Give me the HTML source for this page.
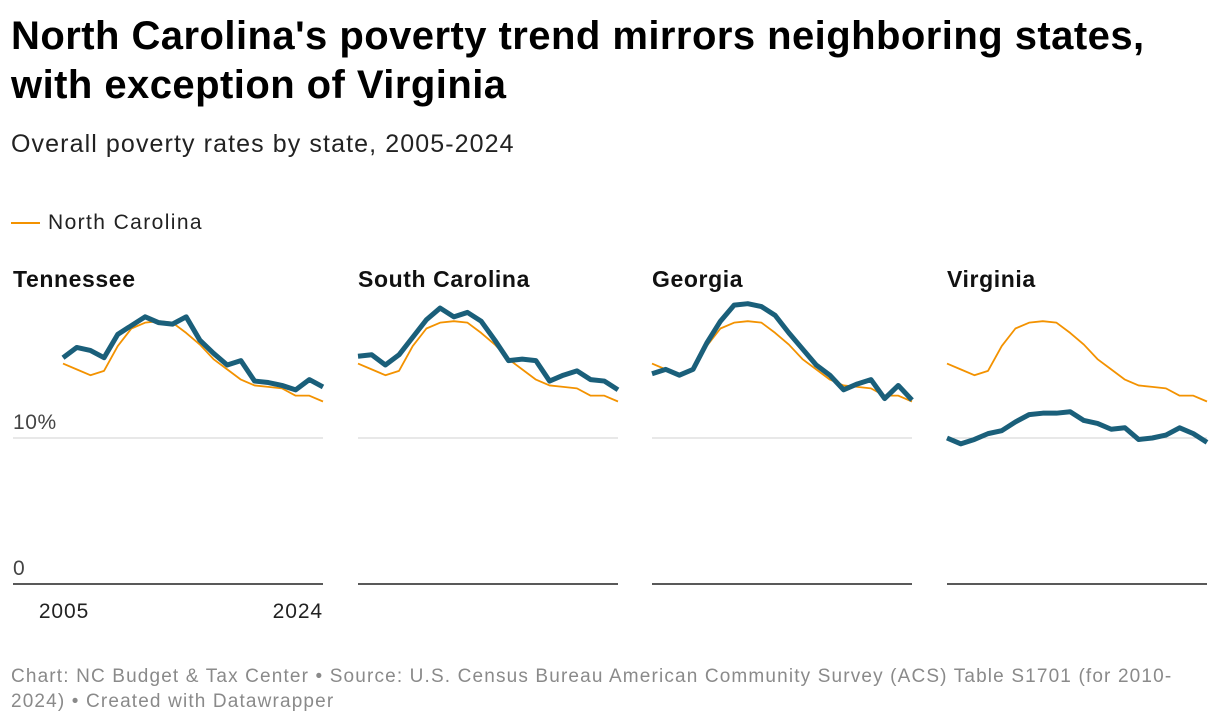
<!DOCTYPE html>
<html><head><meta charset="utf-8"><style>
body{margin:0;background:#fff;width:1220px;height:726px;overflow:hidden;font-family:"Liberation Sans",sans-serif;}
.t{position:absolute;left:11px;margin:0;color:#000;white-space:nowrap;}
</style></head><body>
<div class="t" style="top:12px;font-size:40px;font-weight:bold;line-height:49px;letter-spacing:0.45px">North Carolina's poverty trend mirrors neighboring states,<br>with exception of Virginia</div>
<div class="t" style="top:130px;font-size:25px;letter-spacing:1.1px;color:#222">Overall poverty rates by state, 2005-2024</div>
<div class="t" style="top:211px;font-size:21px;letter-spacing:1.4px;color:#222"><span style="display:inline-block;width:29px;height:2px;background:#f39200;vertical-align:middle;margin-right:8px"></span>North Carolina</div>
<svg id="c" width="1220" height="726" style="position:absolute;left:0;top:0"></svg>
<div class="t" style="top:664px;font-size:19px;letter-spacing:1.15px;line-height:25px;color:#8a8a8a">Chart: NC Budget &amp; Tax Center • Source: U.S. Census Bureau American Community Survey (ACS) Table S1701 (for 2010-<br>2024) • Created with Datawrapper</div>
<script>
const years=[2005,2006,2007,2008,2009,2010,2011,2012,2013,2014,2015,2016,2017,2018,2019,2020,2021,2022,2023,2024];
const nc=[15.1,14.7,14.3,14.6,16.3,17.5,17.9,18.0,17.9,17.2,16.4,15.4,14.7,14.0,13.6,13.5,13.4,12.9,12.9,12.5];
const tn=[15.5,16.2,16.0,15.5,17.1,17.7,18.3,17.9,17.8,18.3,16.7,15.8,15.0,15.3,13.9,13.8,13.6,13.3,14.0,13.5];
const sc=[15.6,15.7,15.0,15.7,16.9,18.1,18.9,18.3,18.6,18.0,16.7,15.3,15.4,15.3,13.9,14.3,14.6,14.0,13.9,13.3];
const ga=[14.4,14.7,14.3,14.7,16.5,18.0,19.1,19.2,19.0,18.4,17.2,16.1,15.0,14.3,13.3,13.7,14.0,12.7,13.6,12.6];
const va=[10.0,9.6,9.9,10.3,10.5,11.1,11.6,11.7,11.7,11.8,11.2,11.0,10.6,10.7,9.9,10.0,10.2,10.7,10.3,9.7];
const panels=[["Tennessee",tn,63,13],["South Carolina",sc,358,358],["Georgia",ga,652,652],["Virginia",va,947,947]];
const svg=document.getElementById('c');const NS='http://www.w3.org/2000/svg';
const W=260;
function y(v){return 584-v*14.6;}
function mk(t,a,p){const e=document.createElementNS(NS,t);for(const k in a)e.setAttribute(k,a[k]);(p||svg).appendChild(e);return e;}
panels.forEach(([name,data,x0,gx],i)=>{
 const g=mk('g',{});
 
 
 const x=j=>x0+(years[j]-years[0])/(years[years.length-1]-years[0])*W;
 const t=mk('text',{x:gx,y:287,'font-size':23,'font-weight':'bold','letter-spacing':0.6,fill:'#111'},g);t.textContent=name;
 
 
 const gl=mk('line',{x1:gx,x2:x0+W,y1:y(10),y2:y(10),stroke:'#d0d0d0','stroke-width':1},g);
 
 
 const bl=mk('line',{x1:gx,x2:x0+W,y1:y(0),y2:y(0),stroke:'#222','stroke-width':1.5},g);
 
 
 const l1=mk('polyline',{points:nc.map((v,j)=>x(j)+','+y(v)).join(' '),fill:'none',stroke:'#f39200','stroke-width':1.8,'stroke-linejoin':'round'},g);
 
 
 const l2=mk('polyline',{points:data.map((v,j)=>x(j)+','+y(v)).join(' '),fill:'none',stroke:'#1a5f7a','stroke-width':5,'stroke-linejoin':'round'},g);
 
 
});
[["10%",y(10)-9],["0",y(0)-9]].forEach(([s,yy])=>{const t=mk('text',{x:13,y:yy,'font-size':21,'letter-spacing':0.6,fill:'#444'});t.textContent=s;
 
 });
[[years[0],64,'middle'],[years[years.length-1],323,'end']].forEach(([s,xx,a])=>{const t=mk('text',{x:xx,y:618,'font-size':21,'letter-spacing':0.9,fill:'#222','text-anchor':a});t.textContent=s;
 
 });
</script>
</body></html>
